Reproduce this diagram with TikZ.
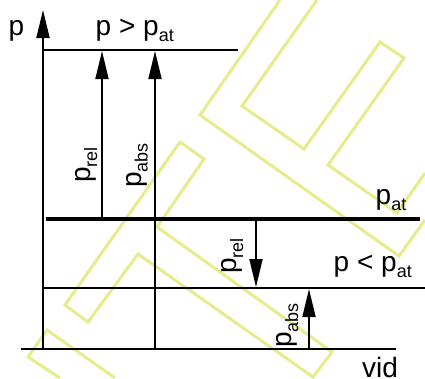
\documentclass[tikz,border=0pt]{standalone}
\usepackage{fontspec}
\setmainfont{Liberation Sans}
\usetikzlibrary{arrows.meta}
\definecolor{wm}{RGB}{230,236,140}
\newcommand\subt[1]{\raisebox{-6.5pt}{\fontsize{18}{18}\selectfont #1}}
\begin{document}
\begin{tikzpicture}[x=1pt,y=-1pt,
  wmline/.style={draw=wm,line width=3pt,line join=miter},
  axisline/.style={line width=1.8pt},
  heavyline/.style={line width=4pt},
  arr/.style={line width=1.8pt,-{Triangle[length=28pt,width=13pt]}},
  lbl/.style={font=\fontsize{28}{30}\selectfont,inner sep=0pt,anchor=base west},
  rlbl/.style={lbl,rotate=90}]
\useasboundingbox (0,0) rectangle (425,378);
% watermark
\draw[wmline] (157,227) -- (332,352) -- (313,377) -- (138,254) -- (88,322) -- (65,305) -- (180,142) -- (204,159) -- cycle;
\draw[wmline] (280,0) -- (200,115) -- (399,256) -- (425,220);
\draw[wmline] (317,0) -- (242,106) -- (304,149) -- (380,42) -- (404,58) -- (328,165) -- (397,213) -- (425,173);
\draw[wmline] (115,378) -- (47,330) -- (28,357) -- (60,378);
% coordinates
\coordinate (axisBot) at (43,349);
\coordinate (axisTop) at (43,10);
\coordinate (vidL) at (21,349);
\coordinate (vidR) at (396,349);
\coordinate (topL) at (43,50);
\coordinate (topR) at (238,50);
\coordinate (heavyL) at (46,219);
\coordinate (heavyR) at (420,219);
\coordinate (lowL) at (43,288);
\coordinate (lowR) at (425,288);
\coordinate (aoneBot) at (102,219);
\coordinate (aoneTop) at (102,51);
\coordinate (atwoBot) at (155,349);
\coordinate (atwoTop) at (155,51);
\coordinate (athreeTop) at (256,219);
\coordinate (athreeTip) at (256,287);
\coordinate (afourBot) at (309,349);
\coordinate (afourTip) at (309,289);
% lines
\draw[axisline] (vidL) -- (vidR);
\draw[arr] (axisBot) -- (axisTop);
\draw[axisline] (topL) -- (topR);
\draw[axisline] (lowL) -- (lowR);
\draw[heavyline] (heavyL) -- (heavyR);
\draw[arr] (aoneBot) -- (aoneTop);
\draw[arr] (atwoBot) -- (atwoTop);
\draw[arr] (athreeTop) -- (athreeTip);
\draw[arr] (afourBot) -- (afourTip);
% labels
\node[lbl] (lp) at (8.5,35) {p};
\node[lbl] (lgt) at (95.5,35) {p > p\subt{at}};
\node[lbl] (lat) at (375.5,204) {p\subt{at}};
\node[lbl] (llt) at (333.5,271) {p < p\subt{at}};
\node[lbl] (lvid) at (362,377) {vid};
\node[rlbl] (lrelu) at (90.5,183) {p\subt{rel}};
\node[rlbl] (labsu) at (141.2,188) {p\subt{abs}};
\node[rlbl] (lrell) at (236.5,274) {p\subt{rel}};
\node[rlbl] (labsl) at (291.5,348) {p\subt{abs}};
\end{tikzpicture}
\end{document}
